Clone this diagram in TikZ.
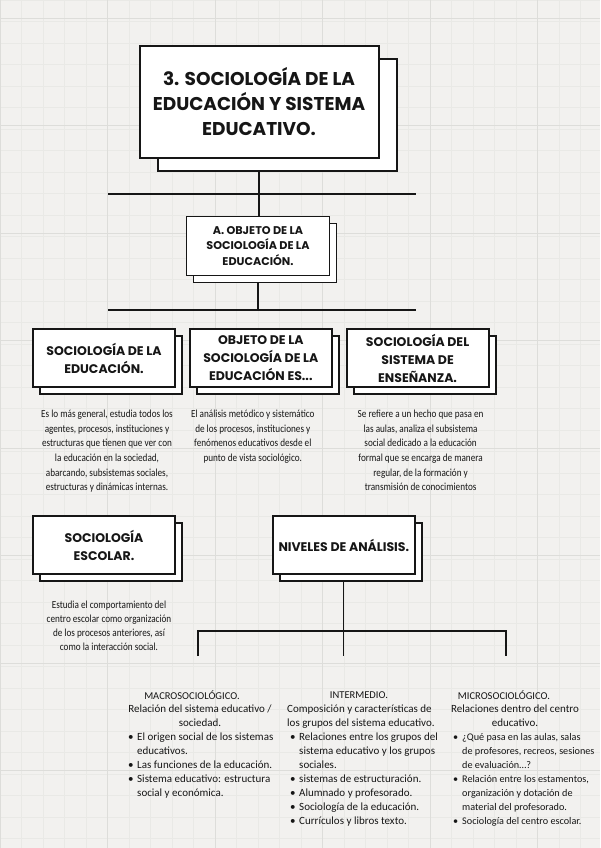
\documentclass[tikz,border=0pt]{standalone}
\usepackage{fontspec}
\setmainfont{Carlito}
\newfontfamily\headfont{Poppins}
\newfontfamily\bodyfont[FakeStretch=0.85]{Carlito}
\newfontfamily\listfont{Carlito}
\usetikzlibrary{positioning,shadows,backgrounds}
\definecolor{papergray}{RGB}{242,241,239}
\definecolor{gridminor}{RGB}{233,233,230}
\definecolor{gridmajor}{RGB}{221,221,218}
\definecolor{inkblack}{RGB}{22,22,22}
\newcommand{\bitem}{\makebox[11pt][l]{\hspace{2pt}\textbullet}}
\newcommand{\bcont}{\hspace*{11pt}}

\begin{document}
\begin{tikzpicture}[x=1pt, y=-1pt,
  cardbase/.style={draw=inkblack, fill=white, line width=1.8pt, align=center, inner sep=2pt, text=inkblack},
  card/.style={cardbase, minimum width=142pt, minimum height=58pt, font=\headfont\bfseries\fontsize{12.5}{18}\selectfont, copy shadow={shadow xshift=7pt, shadow yshift=-7pt}},
  titlecard/.style={cardbase, line width=2pt, minimum width=239pt, minimum height=111pt, font=\headfont\bfseries\fontsize{18.5}{25}\selectfont, copy shadow={shadow xshift=18pt, shadow yshift=-13pt}},
  blurb/.style={align=center, inner sep=0pt, text=inkblack, font=\bodyfont\fontsize{10.8}{14.6}\selectfont},
  colhead/.style={inner sep=0pt, text=inkblack, font=\listfont\fontsize{10.5}{14}\selectfont},
  colintro/.style={inner sep=0pt, text=inkblack, font=\listfont\fontsize{11}{14}\selectfont},
  collist/.style={inner sep=0pt, anchor=north west, align=left, text=inkblack, font=\listfont\fontsize{11}{14}\selectfont},
  conn/.style={draw=inkblack, line width=1.2pt}
]
\useasboundingbox (0,0) rectangle (600,848);
% title and first level
\node[titlecard] (title) at (259,102) {3. SOCIOLOGÍA DE LA\\EDUCACIÓN Y SISTEMA\\EDUCATIVO.};
\node[card, minimum width=143pt, minimum height=59pt, font=\headfont\bfseries\fontsize{11.2}{15.5}\selectfont] (objA) at (258,246) {A. OBJETO DE LA\\SOCIOLOGÍA DE LA\\EDUCACIÓN.};
\coordinate (rule1w) at (108,194);
\coordinate (rule1e) at (416,194);
\coordinate (rule2w) at (108,310);
\coordinate (rule2e) at (416,310);
% three cards
\node[card] (socEdu) at (104,358) {SOCIOLOGÍA DE LA\\EDUCACIÓN.};
\node[card, right=13pt of socEdu] (objEs) {OBJETO DE LA\\SOCIOLOGÍA DE LA\\EDUCACIÓN ES...};
\node[card, right=13pt of objEs] (socSis) {SOCIOLOGÍA DEL\\SISTEMA DE\\ENSEÑANZA.};
\node[blurb, below=22pt of socEdu, xshift=3pt] (socEduTxt) {Es lo más general, estudia todos los\\agentes, procesos, instituciones y\\estructuras que tienen que ver con\\la educación en la sociedad,\\abarcando, subsistemas sociales,\\estructuras y dinámicas internas.};
\node[blurb, below=22pt of objEs, xshift=-8pt] (objEsTxt) {El análisis metódico y sistemático\\de los procesos, instituciones y\\fenómenos educativos desde el\\punto de vista sociológico.};
\node[blurb, below=22pt of socSis, xshift=3pt] (socSisTxt) {Se refiere a un hecho que pasa en\\las aulas, analiza el subsistema\\social dedicado a la educación\\formal que se encarga de manera\\regular, de la formación y\\transmisión de conocimientos};
% second row
\node[card] (escolar) at (104,545) {SOCIOLOGÍA\\ESCOLAR.};
\node[card, right=96pt of escolar] (niveles) {NIVELES DE ANÁLISIS.};
\node[blurb, below=26pt of escolar, xshift=5pt, font=\bodyfont\fontsize{10.8}{13.8}\selectfont] (escolarTxt) {Estudia el comportamiento del\\centro escolar como organización\\de los procesos anteriores, así\\como la interacción social.};
\coordinate (barL) at (198,631);
\coordinate (barR) at (506,631);
\coordinate (dropL) at (198,656);
\coordinate (dropR) at (506,656);
% levels of analysis
\node[colhead] (macroHead) at (192,695) {MACROSOCIOLÓGICO.};
\node[colintro, align=center, below=5pt of macroHead, xshift=8pt] (macroIntro) {Relación del sistema educativo /\\sociedad.};
\node[collist] (macroList) at (126,733) {\bitem El origen social de los sistemas\\\bcont educativos.\\\bitem Las funciones de la educación.\\\bitem Sistema educativo: estructura\\\bcont social y económica.};
\node[colhead] (interHead) at (359,695) {INTERMEDIO.};
\node[colintro, align=left, anchor=north west] (interIntro) at (287,705) {Composición y características de\\los grupos del sistema educativo.};
\node[collist] (interList) at (288,733) {\bitem Relaciones entre los grupos del\\\bcont sistema educativo y los grupos\\\bcont sociales.\\\bitem sistemas de estructuración.\\\bitem Alumnado y profesorado.\\\bitem Sociología de la educación.\\\bitem Currículos y libros texto.};
\node[colhead] (microHead) at (504,695) {MICROSOCIOLÓGICO.};
\node[colintro, align=center, below=5pt of microHead, xshift=11pt] (microIntro) {Relaciones dentro del centro\\educativo.};
\node[collist, font=\listfont\fontsize{10.2}{14}\selectfont] (microList) at (451,733) {\bitem ¿Qué pasa en las aulas, salas\\\bcont de profesores, recreos, sesiones\\\bcont de evaluación\dots?\\\bitem Relación entre los estamentos,\\\bcont organización y dotación de\\\bcont material del profesorado.\\\bitem Sociología del centro escolar.};
% paper and connectors
\begin{scope}[on background layer]
\fill[papergray] (0,0) rectangle (600,848);
\foreach \gx in {0,21.5,...,600} \draw[gridminor, line width=0.5pt] (\gx,0) -- (\gx,848);
\foreach \gy in {0,21.5,...,848} \draw[gridminor, line width=0.5pt] (0,\gy) -- (600,\gy);
\foreach \gx in {0,107.5,...,600} \draw[gridmajor, line width=0.7pt] (\gx,0) -- (\gx,848);
\foreach \gy in {18,125.5,...,848} \draw[gridmajor, line width=0.7pt] (0,\gy) -- (600,\gy);
\draw[conn] (rule1w) -- (rule1e);
\draw[conn] (rule2w) -- (rule2e);
\draw[conn] (title.south) -- (title.south |- objA.north);
\draw[conn] (objA.south) -- (objA.south |- rule2w);
\draw[conn] (niveles.south) -- (niveles.south |- dropL);
\draw[conn] (dropL) -- (barL) -- (barR) -- (dropR);
\end{scope}
\end{tikzpicture}
\end{document}
